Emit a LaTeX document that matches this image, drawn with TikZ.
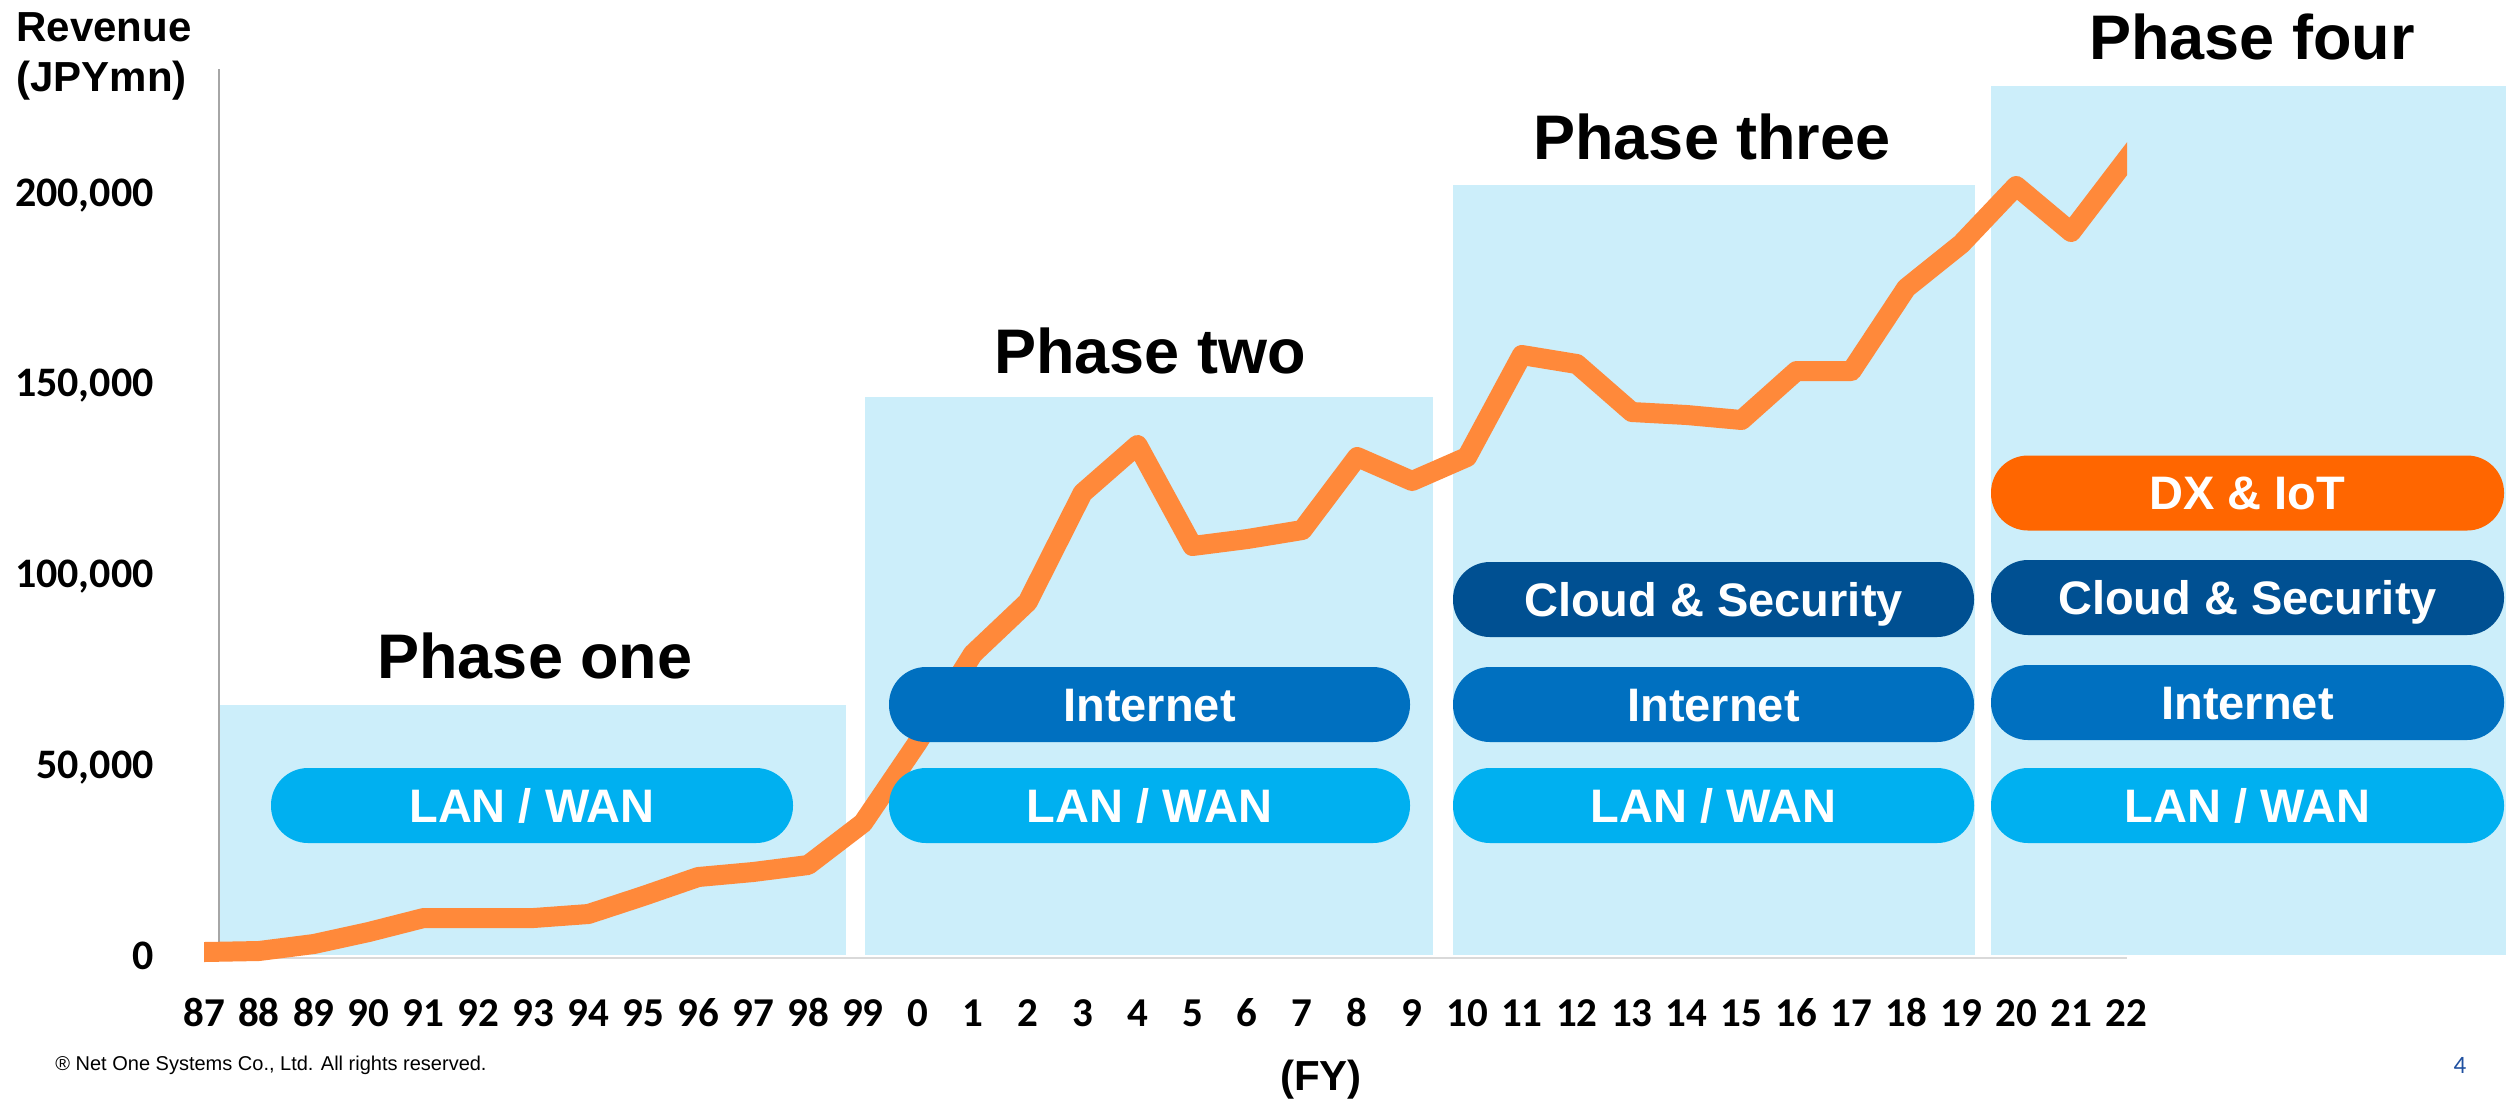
\documentclass[tikz,border=0pt]{standalone}
\usepackage{fontspec}
\setmainfont{Liberation Sans}
\newfontfamily\numfont{Carlito}

\definecolor{phasebg}{RGB}{204,238,250}
\definecolor{lanblue}{RGB}{0,176,240}
\definecolor{netblue}{RGB}{0,112,192}
\definecolor{cloudblue}{RGB}{0,80,146}
\definecolor{dxorange}{RGB}{255,102,0}
\definecolor{lineorange}{RGB}{255,137,58}
\definecolor{axisgray}{RGB}{166,166,166}
\definecolor{basegray}{RGB}{217,217,217}
\definecolor{pageblue}{RGB}{31,80,160}

\tikzset{
  phasebox/.style={fill=phasebg, draw=none},
  phaselabel/.style={anchor=base, inner sep=0pt,
    font=\fontsize{31.5pt}{36pt}\selectfont\bfseries},
  pill/.style={rounded corners=18.5pt, inner sep=0pt, text=white,
    minimum height=37.5pt, text height=16.8pt, text depth=0pt,
    font=\fontsize{23.5pt}{28pt}\selectfont\bfseries},
  lanpill/.style={pill, fill=lanblue},
  netpill/.style={pill, fill=netblue},
  cloudpill/.style={pill, fill=cloudblue},
  dxpill/.style={pill, fill=dxorange},
  axistitle/.style={inner sep=0pt, font=\fontsize{21pt}{25pt}\selectfont\bfseries},
  yticklabel/.style={anchor=base east, inner sep=0pt,
    font=\numfont\fontsize{21pt}{25pt}\selectfont\bfseries},
  xticklabel/.style={anchor=base, inner sep=0pt,
    font=\numfont\fontsize{20.5pt}{25pt}\selectfont\bfseries},
  revline/.style={draw=lineorange, line width=10pt, line join=round, line cap=butt},
}

\begin{document}
\begin{tikzpicture}[x=0.5pt, y=-0.5pt]
\useasboundingbox (0,0) rectangle (2506,1100);

% phase backgrounds
\path[phasebox] (219,705) rectangle (846,955);
\path[phasebox] (865,397) rectangle (1433,955);
\path[phasebox] (1453,185) rectangle (1975,955);
\path[phasebox] (1991,86) rectangle (2506,955);

% axes
\draw[axisgray, line width=0.75pt] (219,69) -- (219,957);
\draw[basegray, line width=1pt] (219,958) -- (2127,958);

% revenue curve, FY87 to FY22
\begin{scope}
  \clip (204,0) rectangle (2127,1100);
  \draw[revline] plot coordinates {
    (184,952.4)
    (204.0,952) (258.9,951) (313.8,944) (368.7,932) (423.7,918)
    (478.6,918) (533.5,918) (588.4,914) (643.3,896) (698.2,877)
    (753.1,872) (808.1,865) (863.0,823) (917.9,742) (972.8,654)
    (1027.7,602) (1082.6,493) (1137.5,445) (1192.5,546) (1247.4,539)
    (1302.3,530) (1357.2,457) (1412.1,481) (1467.0,457) (1521.9,355)
    (1576.8,364) (1631.8,412) (1686.7,415) (1741.6,420) (1796.5,371)
    (1851.4,371) (1906.3,288) (1961.2,244) (2016.2,186) (2071.1,232)
    (2126.0,160)
    (2146,134)
  };
\end{scope}

% phase titles
\node[phaselabel] (p1) at (535,678) {Phase one};
\node[phaselabel] (p2) at (1150,373) {Phase two};
\node[phaselabel] (p3) at (1712,159) {Phase three};
\node[phaselabel] (p4) at (2252,59) {Phase four};

% technology layers
\node[lanpill, minimum width=261pt] (lan1) at (532,805.5) {LAN / WAN};

\node[netpill, minimum width=260.5pt] (net2) at (1149.5,704.5) {Internet};
\node[lanpill, minimum width=260.5pt] (lan2) at (1149.5,805.5) {LAN / WAN};

\node[cloudpill, minimum width=260.5pt] (cloud3) at (1713.5,599.5) {Cloud \& Security};
\node[netpill, minimum width=260.5pt] (net3) at (1713.5,704.5) {Internet};
\node[lanpill, minimum width=260.5pt] (lan3) at (1713.5,805.5) {LAN / WAN};

\node[dxpill, minimum width=256.5pt] (dx4) at (2247.5,493) {DX \& IoT};
\node[cloudpill, minimum width=256.5pt] (cloud4) at (2247.5,597.5) {Cloud \& Security};
\node[netpill, minimum width=256.5pt] (net4) at (2247.5,702.5) {Internet};
\node[lanpill, minimum width=256.5pt] (lan4) at (2247.5,805.5) {LAN / WAN};

% axis titles
\node[axistitle, anchor=base west] (ytitleA) at (16,41) {Revenue};
\node[axistitle, anchor=base west] (ytitleB) at (16,91) {(JPYmn)};
\node[axistitle, anchor=base] (xtitle) at (1321,1090) {(FY)};

% value labels
\foreach \k/\t in {0/0, 1/{50,000}, 2/{100,000}, 3/{150,000}, 4/{200,000}}
  \node[yticklabel] (ytick\k) at (154,{969-190.75*\k}) {\t};

% fiscal year labels
\foreach \t [count=\i from 0] in {87,88,89,90,91,92,93,94,95,96,97,98,99,
    0,1,2,3,4,5,6,7,8,9,10,11,12,13,14,15,16,17,18,19,20,21,22}
  \node[xticklabel] (xtick\i) at ({204+54.914*\i},1026) {\t};

% footer
\node[anchor=base west, inner sep=0pt, font=\fontsize{10pt}{12pt}\selectfont]
  (copyright) at (55,1070) {® Net One Systems Co., Ltd. All rights reserved.};
\node[anchor=base, inner sep=0pt, text=pageblue,
  font=\numfont\fontsize{12.5pt}{15pt}\selectfont] (pagenum) at (2460,1073) {4};
\end{tikzpicture}
\end{document}
